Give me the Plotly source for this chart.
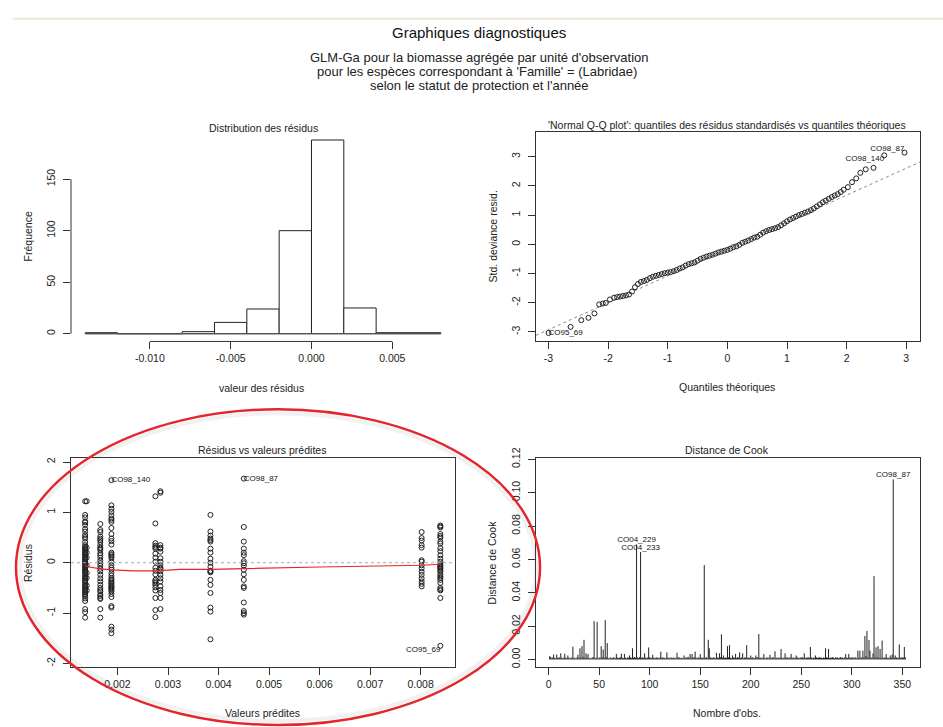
import plotly.graph_objects as go

W, H = 943, 727
FONT = "Liberation Sans, Arial, sans-serif"
INK = "#222222"

# ---------------- data ----------------
# Histogram of residuals
hist_edges = [-0.014, -0.012, -0.010, -0.008, -0.006, -0.004, -0.002, 0.000, 0.002, 0.004, 0.006, 0.008]
hist_counts = [1, 0, 0, 2, 11, 24, 100, 188, 25, 1, 1]
hist_xticks = [-0.010, -0.005, 0.000, 0.005]
hist_xticktext = ["-0.010", "-0.005", "0.000", "0.005"]
hist_yticks = [0, 50, 100, 150]

# Normal Q-Q plot (theoretical quantile, standardized deviance residual)
qq_q_low = [-3.00, -2.63, -2.45, -2.33, -2.23, -2.15, -2.09, -2.04, -1.97]
qq_r_low = [-3.04, -2.83, -2.60, -2.52, -2.37, -2.06, -2.03, -2.01, -1.89]
qq_q_mid = [-1.90, -1.85, -1.80, -1.75, -1.70, -1.65, -1.60, -1.55, -1.50, -1.45,
            -1.40, -1.35, -1.30, -1.25, -1.20, -1.15, -1.10, -1.05, -1.00, -0.95,
            -0.90, -0.85, -0.80, -0.75, -0.70, -0.65, -0.60, -0.55, -0.50, -0.45,
            -0.40, -0.35, -0.30, -0.25, -0.20, -0.15, -0.10, -0.05, 0.00, 0.05,
            0.10, 0.15, 0.20, 0.25, 0.30, 0.35, 0.40, 0.45, 0.50, 0.55,
            0.60, 0.65, 0.70, 0.75, 0.80, 0.85, 0.90, 0.95, 1.00, 1.05,
            1.10, 1.15, 1.20, 1.25, 1.30, 1.35, 1.40, 1.45, 1.50, 1.55,
            1.60, 1.65, 1.70, 1.75, 1.80, 1.85, 1.90]
qq_r_mid = [-1.83, -1.81, -1.79, -1.77, -1.75, -1.72, -1.62, -1.47, -1.36, -1.29,
            -1.26, -1.22, -1.16, -1.11, -1.08, -1.05, -1.02, -0.99, -0.97, -0.95,
            -0.92, -0.88, -0.83, -0.79, -0.73, -0.68, -0.65, -0.62, -0.56, -0.50,
            -0.46, -0.42, -0.39, -0.36, -0.32, -0.28, -0.25, -0.22, -0.19, -0.15,
            -0.10, -0.07, -0.02, 0.05, 0.09, 0.13, 0.18, 0.23, 0.26, 0.33,
            0.40, 0.45, 0.49, 0.52, 0.55, 0.59, 0.65, 0.72, 0.79, 0.85,
            0.90, 0.95, 1.00, 1.04, 1.08, 1.12, 1.17, 1.23, 1.30, 1.37,
            1.44, 1.50, 1.56, 1.62, 1.67, 1.72, 1.79]
qq_q_high = [1.95, 2.02, 2.09, 2.16, 2.23, 2.32, 2.45, 2.63, 2.97]
qq_r_high = [1.87, 1.96, 2.13, 2.26, 2.45, 2.57, 2.62, 3.05, 3.14]
qqline_x = [-3.21, 3.23]
qqline_y = [-3.12, 2.82]
qq_lab = ["CO95_69", "CO98_140", "CO98_87"]
qq_lab_q = [-3.00, 2.63, 2.97]
qq_lab_r = [-3.04, 3.05, 3.14]
qq_lab_pos = ["middle right", "bottom left", "top left"]
qq_ticks = [-3, -2, -1, 0, 1, 2, 3]
qq_ticktext = ["-3", "-2", "-1", "0", "1", "2", "3"]

# Residuals vs fitted values (one column of residuals per fitted value)
fit_vals = [0.00136, 0.00139, 0.00166, 0.00188, 0.00275, 0.00285, 0.00384, 0.00450, 0.00802, 0.00839]
res_g1 = [1.22, 0.95, 0.90, 0.82, 0.80, 0.75, 0.67, 0.62, 0.55, 0.51, 0.48, 0.41, 0.35, 0.32,
          0.29, 0.27, 0.25, 0.22, 0.20, 0.17, 0.15, 0.12, 0.10, 0.07, 0.05, 0.02, 0.00, -0.03,
          -0.06, -0.09, -0.11, -0.14, -0.16, -0.18, -0.21, -0.24, -0.27, -0.30, -0.32, -0.35,
          -0.37, -0.40, -0.44, -0.47, -0.49, -0.52, -0.54, -0.57, -0.59, -0.62, -0.64, -0.67,
          -0.71, -0.76, -0.92, -0.98, -1.09]
res_g1b = [1.22, 0.30, 0.20, 0.10, -0.05, -0.20, -0.30, -0.45, -0.55]
res_g2 = [0.77, 0.65, 0.61, 0.52, 0.48, 0.45, 0.41, 0.35, 0.30, 0.28, 0.25, 0.19, 0.15, 0.10,
          0.04, -0.01, -0.06, -0.12, -0.17, -0.24, -0.31, -0.37, -0.44, -0.50, -0.54, -0.57,
          -0.63, -0.66, -0.70, -0.72, -0.92, -1.09]
res_g3 = [1.64, 1.14, 1.07, 1.01, 0.94, 0.88, 0.85, 0.81, 0.69, 0.57, 0.48, 0.43, 0.36, 0.20,
          0.17, 0.15, 0.12, 0.09, 0.02, -0.05, -0.10, -0.14, -0.21, -0.26, -0.31, -0.34, -0.37,
          -0.40, -0.42, -0.45, -0.47, -0.49, -0.51, -0.54, -0.57, -0.62, -0.68, -0.86, -0.89,
          -1.27, -1.33, -1.40]
res_g4 = [1.32, 0.78, 0.39, 0.34, 0.31, 0.28, 0.18, 0.10, 0.02, -0.10, -0.16, -0.23, -0.34,
          -0.37, -0.40, -0.44, -0.49, -0.55, -0.70, -0.94, -1.08]
res_g5 = [1.42, 1.39, 0.35, 0.30, 0.28, 0.22, 0.09, 0.02, -0.05, -0.10, -0.12, -0.17, -0.24,
          -0.31, -0.37, -0.47, -0.54, -0.60, -0.70, -0.92]
res_g6 = [0.95, 0.62, 0.54, 0.48, 0.45, 0.42, 0.28, 0.20, 0.08, 0.00, -0.08, -0.16, -0.17,
          -0.19, -0.34, -0.44, -0.60, -0.89, -0.97, -1.52]
res_g7 = [1.67, 0.71, 0.42, 0.28, 0.20, 0.15, 0.03, -0.01, -0.06, -0.14, -0.23, -0.34, -0.47,
          -0.50, -0.79, -0.96, -1.00, -1.03]
res_g8 = [0.61, 0.49, 0.44, 0.35, 0.30, 0.05, 0.02, -0.05, -0.11, -0.18, -0.24, -0.31, -0.37,
          -0.42, -0.47]
res_g9 = [0.74, 0.72, 0.70, 0.57, 0.53, 0.50, 0.42, 0.38, 0.29, 0.23, 0.15, 0.08, 0.02, -0.03,
          -0.06, -0.08, -0.10, -0.12, -0.15, -0.18, -0.23, -0.27, -0.30, -0.34, -0.40, -0.50,
          -0.53, -0.55, -0.70, -1.65]
res_groups = [res_g1, res_g1b, res_g2, res_g3, res_g4, res_g5, res_g6, res_g7, res_g8, res_g9]
lowess_x = [0.00136, 0.00166, 0.00188, 0.00232, 0.00275, 0.00324, 0.00384, 0.00450, 0.00600, 0.00802, 0.00839]
lowess_y = [-0.07, -0.12, -0.14, -0.16, -0.16, -0.13, -0.13, -0.12, -0.085, -0.05, -0.03]
res_lab = ["CO98_140", "CO98_87", "CO95_69"]
res_lab_x = [0.00188, 0.00450, 0.00839]
res_lab_y = [1.64, 1.67, -1.65]
res_lab_pos = ["middle right", "middle right", "bottom left"]
res_xticks = [0.002, 0.003, 0.004, 0.005, 0.006, 0.007, 0.008]
res_xticktext = ["0.002", "0.003", "0.004", "0.005", "0.006", "0.007", "0.008"]
res_yticks = [-2, -1, 0, 1, 2]
res_yticktext = ["-2", "-1", "0", "1", "2"]

# Cook's distance, observations 1..353
cook = [
    0.0020, 0.0015, 0.0008, 0.0012, 0.0030, 0.0010, 0.0006, 0.0030, 0.0012, 0.0009,
    0.0014, 0.0037, 0.0010, 0.0007, 0.0012, 0.0035, 0.0011, 0.0008, 0.0024, 0.0013,
    0.0006, 0.0010, 0.0012, 0.0077, 0.0009, 0.0011, 0.0005, 0.0013, 0.0028, 0.0010,
    0.0067, 0.0012, 0.0080, 0.0015, 0.0118, 0.0010, 0.0037, 0.0012, 0.0033, 0.0008,
    0.0010, 0.0006, 0.0012, 0.0015, 0.0230, 0.0009, 0.0011, 0.0225, 0.0007, 0.0012,
    0.0010, 0.0080, 0.0013, 0.0060, 0.0011, 0.0236, 0.0014, 0.0098, 0.0009, 0.0006,
    0.0012, 0.0010, 0.0008, 0.0013, 0.0011, 0.0007, 0.0033, 0.0012, 0.0009, 0.0010,
    0.0014, 0.0035, 0.0010, 0.0008, 0.0033, 0.0011, 0.0006, 0.0013, 0.0010, 0.0024,
    0.0012, 0.0009, 0.0067, 0.0011, 0.0014, 0.0010, 0.0690, 0.0012, 0.0008, 0.0015,
    0.0644, 0.0010, 0.0013, 0.0009, 0.0037, 0.0011, 0.0008, 0.0012, 0.0072, 0.0014,
    0.0010, 0.0009, 0.0028, 0.0012, 0.0007, 0.0011, 0.0013, 0.0010, 0.0008, 0.0012,
    0.0047, 0.0010, 0.0014, 0.0009, 0.0011, 0.0008, 0.0043, 0.0012, 0.0010, 0.0007,
    0.0013, 0.0011, 0.0009, 0.0012, 0.0010, 0.0008, 0.0040, 0.0012, 0.0014, 0.0010,
    0.0009, 0.0011, 0.0007, 0.0024, 0.0012, 0.0010, 0.0013, 0.0016, 0.0011, 0.0033,
    0.0012, 0.0033, 0.0010, 0.0015, 0.0047, 0.0011, 0.0008, 0.0013, 0.0010, 0.0033,
    0.0012, 0.0009, 0.0011, 0.0566, 0.0010, 0.0014, 0.0008, 0.0118, 0.0067, 0.0012,
    0.0010, 0.0009, 0.0013, 0.0011, 0.0007, 0.0040, 0.0012, 0.0010, 0.0037, 0.0014,
    0.0151, 0.0011, 0.0024, 0.0009, 0.0012, 0.0010, 0.0080, 0.0013, 0.0086, 0.0011,
    0.0008, 0.0024, 0.0012, 0.0010, 0.0033, 0.0009, 0.0014, 0.0011, 0.0043, 0.0010,
    0.0012, 0.0037, 0.0008, 0.0013, 0.0011, 0.0086, 0.0010, 0.0012, 0.0009, 0.0024,
    0.0011, 0.0013, 0.0010, 0.0008, 0.0024, 0.0012, 0.0014, 0.0153, 0.0010, 0.0011,
    0.0009, 0.0012, 0.0033, 0.0010, 0.0008, 0.0013, 0.0011, 0.0010, 0.0028, 0.0012,
    0.0009, 0.0014, 0.0011, 0.0049, 0.0010, 0.0012, 0.0008, 0.0013, 0.0010, 0.0063,
    0.0011, 0.0009, 0.0012, 0.0037, 0.0010, 0.0014, 0.0008, 0.0011, 0.0013, 0.0033,
    0.0010, 0.0012, 0.0009, 0.0011, 0.0024, 0.0013, 0.0010, 0.0008, 0.0012, 0.0011,
    0.0014, 0.0010, 0.0037, 0.0009, 0.0012, 0.0011, 0.0013, 0.0010, 0.0075, 0.0012,
    0.0008, 0.0011, 0.0010, 0.0024, 0.0013, 0.0009, 0.0012, 0.0014, 0.0010, 0.0011,
    0.0008, 0.0012, 0.0010, 0.0067, 0.0013, 0.0011, 0.0063, 0.0009, 0.0012, 0.0010,
    0.0014, 0.0011, 0.0008, 0.0013, 0.0010, 0.0012, 0.0009, 0.0011, 0.0015, 0.0010,
    0.0012, 0.0008, 0.0013, 0.0033, 0.0011, 0.0010, 0.0033, 0.0012, 0.0009, 0.0014,
    0.0011, 0.0010, 0.0013, 0.0012, 0.0008, 0.0053, 0.0011, 0.0052, 0.0010, 0.0014,
    0.0053, 0.0012, 0.0141, 0.0020, 0.0171, 0.0011, 0.0116, 0.0053, 0.0013, 0.0010,
    0.0036, 0.0500, 0.0012, 0.0073, 0.0014, 0.0080, 0.0011, 0.0063, 0.0010, 0.0113,
    0.0012, 0.0009, 0.0013, 0.0033, 0.0010, 0.0011, 0.0008, 0.0024, 0.0012, 0.0030,
    0.1080, 0.0010, 0.0024, 0.0013, 0.0011, 0.0009, 0.0090, 0.0012, 0.0010, 0.0014,
    0.0011, 0.0075, 0.0012,
]
cook_lab = ["CO04_229", "CO04_233", "CO98_87"]
cook_lab_obs = [87, 91, 341]
cook_xticks = [0, 50, 100, 150, 200, 250, 300, 350]
cook_yticks = [0.00, 0.02, 0.04, 0.06, 0.08, 0.10, 0.12]
cook_yticktext = ["0.00", "0.02", "0.04", "0.06", "0.08", "0.10", "0.12"]

# ---------------- figure ----------------
def dx(a, b):
    return [a / W, b / W]

def dy(top, bottom):
    return [1 - bottom / H, 1 - top / H]

def px(x):
    return x / W

def py(y):
    return 1 - y / H

fig = go.Figure()
LABFONT = dict(family=FONT, size=8, color="#111111")

# 1. Histogram
centers = [(hist_edges[i] + hist_edges[i + 1]) / 2 for i in range(len(hist_counts))]
widths = [hist_edges[i + 1] - hist_edges[i] for i in range(len(hist_counts))]
fig.add_trace(go.Bar(x=centers, y=hist_counts, width=widths,
                     marker=dict(color="white", line=dict(color=INK, width=1)),
                     xaxis="x", yaxis="y", showlegend=False, hoverinfo="skip"))

# 2. QQ plot
fig.add_trace(go.Scatter(x=qqline_x, y=qqline_y, mode="lines",
                         line=dict(color="#8a8a8a", width=1, dash="dot"),
                         xaxis="x2", yaxis="y2", showlegend=False, hoverinfo="skip"))
qq_x = qq_q_low + qq_q_mid + qq_q_high
qq_y = qq_r_low + qq_r_mid + qq_r_high
fig.add_trace(go.Scatter(x=qq_x, y=qq_y, mode="markers",
                         marker=dict(symbol="circle-open", size=5, color=INK, line=dict(width=1)),
                         xaxis="x2", yaxis="y2", showlegend=False, hoverinfo="skip"))
for name, q, r, pos in zip(qq_lab, qq_lab_q, qq_lab_r, qq_lab_pos):
    fig.add_trace(go.Scatter(x=[q], y=[r], mode="text", text=[name], textposition=pos,
                             textfont=LABFONT, cliponaxis=False,
                             xaxis="x2", yaxis="y2", showlegend=False, hoverinfo="skip"))

# 3. Residuals vs fitted
res_x, res_y = [], []
for fv, grp in zip(fit_vals, res_groups):
    res_x += [fv] * len(grp)
    res_y += grp
fig.add_trace(go.Scatter(x=res_x, y=res_y, mode="markers",
                         marker=dict(symbol="circle-open", size=5, color=INK, line=dict(width=1)),
                         xaxis="x3", yaxis="y3", showlegend=False, hoverinfo="skip"))
fig.add_trace(go.Scatter(x=lowess_x, y=lowess_y, mode="lines",
                         line=dict(color="#ee2222", width=1.2),
                         xaxis="x3", yaxis="y3", showlegend=False, hoverinfo="skip"))
for name, xv, yv, pos in zip(res_lab, res_lab_x, res_lab_y, res_lab_pos):
    fig.add_trace(go.Scatter(x=[xv], y=[yv], mode="text", text=[name], textposition=pos,
                             textfont=LABFONT, cliponaxis=False,
                             xaxis="x3", yaxis="y3", showlegend=False, hoverinfo="skip"))

# 4. Cook's distance
obs = list(range(1, len(cook) + 1))
cx, cy = [], []
for o, v in zip(obs, cook):
    cx += [o, o, None]
    cy += [0, v, None]
fig.add_trace(go.Scatter(x=cx, y=cy, mode="lines", line=dict(color=INK, width=1),
                         xaxis="x4", yaxis="y4", showlegend=False, hoverinfo="skip"))
fig.add_trace(go.Scatter(x=cook_lab_obs, y=[cook[o - 1] for o in cook_lab_obs], mode="text",
                         text=cook_lab, textposition="top center",
                         textfont=LABFONT, cliponaxis=False,
                         xaxis="x4", yaxis="y4", showlegend=False, hoverinfo="skip"))

tickfont = dict(family=FONT, size=10.5, color=INK)

def xax(domain, anchor, rng, tickvals, ticktext=None, boxed=True):
    d = dict(domain=domain, anchor=anchor, range=rng, tickvals=tickvals,
             ticks="outside", ticklen=7, tickwidth=1, tickcolor="#333",
             tickfont=tickfont, showgrid=False, zeroline=False,
             showline=boxed, mirror=boxed, linecolor="#333", linewidth=1,
             ticklabelstandoff=0, fixedrange=True)
    if ticktext is not None:
        d["ticktext"] = ticktext
    return d

def yax(domain, anchor, rng, tickvals, ticktext=None, boxed=True):
    d = dict(domain=domain, anchor=anchor, range=rng, tickvals=tickvals,
             ticks="outside", ticklen=7, tickwidth=1, tickcolor="#333",
             tickfont=tickfont, tickangle=-90, showgrid=False, zeroline=False,
             showline=boxed, mirror=boxed, linecolor="#333", linewidth=1,
             ticklabelstandoff=4, fixedrange=True)
    if ticktext is not None:
        d["ticktext"] = ticktext
    return d

LEFT = dx(71, 455)
RIGHT = dx(536, 920)
TOP = dy(123.3, 336)
BOT = dy(455, 667)

fig.update_layout(
    width=W, height=H, margin=dict(l=0, r=0, t=0, b=0),
    paper_bgcolor="white", plot_bgcolor="white", showlegend=False,
    xaxis=xax(LEFT, "y", [-0.01488, 0.00888], hist_xticks, hist_xticktext, boxed=False),
    yaxis=yax(TOP, "x", [-7.5, 195.5], hist_yticks, boxed=False),
    xaxis2=xax(RIGHT, "y2", [-3.21, 3.23], qq_ticks, qq_ticktext),
    yaxis2=yax(TOP, "x2", [-3.33, 3.84], qq_ticks, qq_ticktext),
    xaxis3=xax(LEFT, "y3", [0.00108, 0.00868], res_xticks, res_xticktext),
    yaxis3=yax(BOT, "x3", [-2.07, 2.07], res_yticks, res_yticktext),
    xaxis4=xax(RIGHT, "y4", [-12.5, 367.5], cook_xticks),
    yaxis4=yax(BOT, "x4", [-0.0045, 0.1205], cook_yticks, cook_yticktext),
)

shapes = [
    # top separator line of the page
    dict(type="line", xref="paper", yref="paper", x0=px(13), x1=1, y0=py(8), y1=py(8),
         line=dict(color="#ebe6d6", width=2)),
    # histogram axis lines (R style: span of the ticks only)
    dict(type="line", xref="x", yref="y domain", x0=hist_xticks[0], x1=hist_xticks[-1], y0=0, y1=0,
         line=dict(color="#333", width=1)),
    dict(type="line", xref="x domain", yref="y", x0=0, x1=0, y0=hist_yticks[0], y1=hist_yticks[-1],
         line=dict(color="#333", width=1)),
    # zero-count bins drawn as a baseline
    dict(type="line", xref="x", yref="y", x0=hist_edges[0], x1=hist_edges[-1], y0=0, y1=0,
         line=dict(color="#555", width=1)),
    # dotted zero line in residual plot
    dict(type="line", xref="x3 domain", yref="y3", x0=0, x1=1, y0=0, y1=0,
         line=dict(color="#aaaaaa", width=1, dash="dot")),
    # hand-drawn red ellipse highlight (soft shadow + stroke)
    dict(type="circle", xref="paper", yref="paper", layer="above",
         x0=px(20), x1=px(536), y0=py(722), y1=py(409),
         line=dict(color="rgba(120,120,120,0.10)", width=4)),
    dict(type="circle", xref="paper", yref="paper", layer="above",
         x0=px(16), x1=px(540), y0=py(726), y1=py(405),
         line=dict(color="#e3262b", width=2.5)),
]
fig.update_layout(shapes=shapes)

def ann(text, x, y, size=10.5, angle=0, color=INK):
    return dict(text=text, x=px(x), y=py(y), xref="paper", yref="paper",
                xanchor="center", yanchor="middle", showarrow=False, textangle=angle,
                font=dict(family=FONT, size=size, color=color))

annotations = [
    ann("Graphiques diagnostiques", 479, 21.7, size=15, color="#111"),
    ann("GLM-Ga pour la biomasse agrégée par unité d'observation", 479, 47.7, size=13, color="#222"),
    ann("pour les espèces correspondant à 'Famille' = (Labridae)", 477, 61.7, size=13, color="#222"),
    ann("selon le statut de protection et l'année", 479, 76, size=13, color="#222"),
    ann("Distribution des résidus", 263, 119),
    ann("valeur des résidus", 261, 383.3),
    ann("Fréquence", 27.7, 229.5, angle=-90),
    ann("'Normal Q-Q plot': quantiles des résidus standardisés vs quantiles théoriques", 727, 115.7),
    ann("Quantiles théoriques", 727, 382.7),
    ann("Std. deviance resid.", 492.7, 229.5, angle=-90),
    ann("Résidus vs valeurs prédites", 262, 446.7),
    ann("Valeurs prédites", 262, 713.3),
    ann("Résidus", 27.3, 561, angle=-90),
    ann("Distance de Cook", 727, 446.7),
    ann("Nombre d'obs.", 727, 713.3),
    ann("Distance de Cook", 491.7, 561, angle=-90),
]
fig.update_layout(annotations=annotations)

fig.write_html("out.html")
